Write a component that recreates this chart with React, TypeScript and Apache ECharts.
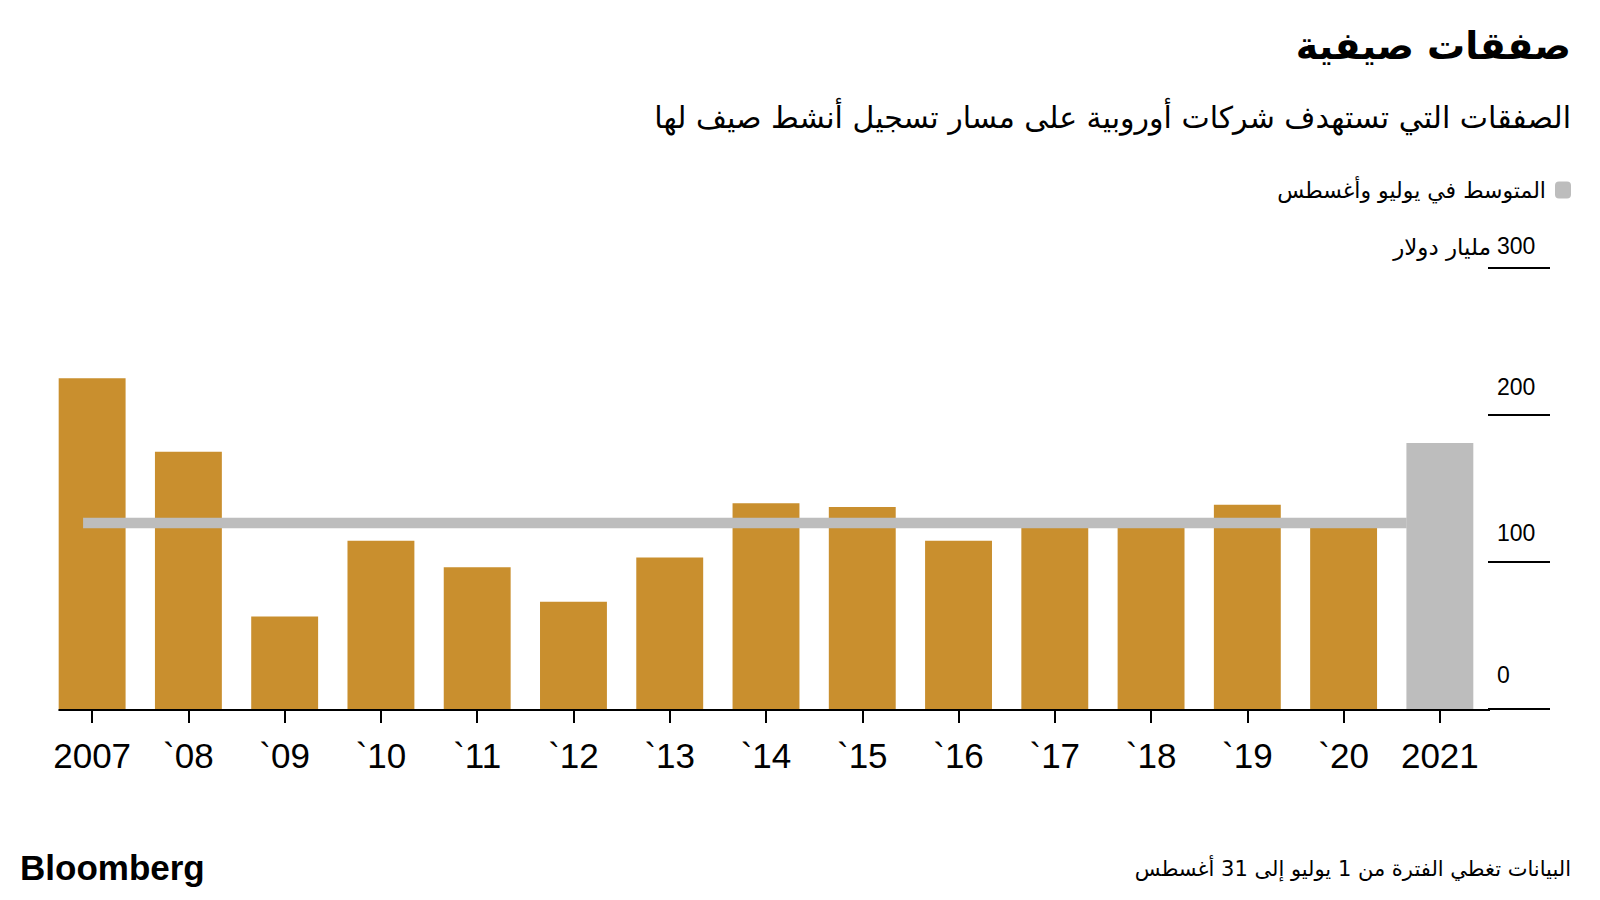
import React, { useEffect, useRef } from "react";
import * as echarts from "echarts";

const categories = ["2007", "`08", "`09", "`10", "`11", "`12", "`13", "`14", "`15", "`16", "`17", "`18", "`19", "`20", "2021"];
const dealValues = [225, 175, 63, 114.5, 96.5, 73, 103, 140, 137.5, 114.5, 125, 125.5, 139, 124, 181];
const averageValue = 126.5;
const yTickValues = [0, 100, 200, 300];
const yLabelLift = [68, 58, 56, 44];

const GOLD = "#C98F2E";
const GREY = "#BDBDBD";
const AR_FONT = '"DejaVu Sans", sans-serif';
const NUM_FONT = '"Liberation Sans", Arial, sans-serif';
const AVG_NAME = "المتوسط في يوليو وأغسطس";

export default function App() {
  const ref = useRef<HTMLDivElement>(null);
  useEffect(() => {
    if (!ref.current) return;
    const chart = echarts.init(ref.current, null, { renderer: "svg" });
    const last = dealValues.length - 1;
    const rich: Record<string, any> = {};
    yTickValues.forEach((v, i) => {
      rich["y" + v] = {
        fontSize: 23,
        fontFamily: NUM_FONT,
        color: "#000",
        padding: [0, 0, yLabelLift[i], 0],
      };
    });
    const textStyle = (text: string, font: string, align: string, vAlign: string) => ({
      text,
      font,
      fill: "#000",
      align,
      verticalAlign: vAlign,
      textAlign: align,
      textVerticalAlign: vAlign,
    });
    chart.setOption({
      animation: false,
      grid: { left: 44, right: 112, top: 268, bottom: 191, containLabel: false },
      legend: {
        data: [AVG_NAME],
        right: 24,
        top: 174,
        align: "right",
        icon: "roundRect",
        itemWidth: 16,
        itemHeight: 17,
        selectedMode: false,
        textStyle: { fontSize: 22, fontFamily: AR_FONT, color: "#000", padding: [0, 4, 0, 0] },
      },
      xAxis: {
        type: "category",
        data: categories,
        axisLine: { show: false },
        axisTick: { show: true, alignWithLabel: true, length: 14, lineStyle: { color: "#000", width: 2 } },
        axisLabel: { fontSize: 35, fontFamily: NUM_FONT, color: "#000", margin: 29, interval: 0 },
        splitLine: { show: false },
      },
      yAxis: {
        type: "value",
        position: "right",
        min: 0,
        max: 300,
        interval: 100,
        axisLine: { show: false },
        axisTick: { show: true, length: 62, lineStyle: { color: "#000", width: 2 } },
        splitLine: { show: false },
        axisLabel: {
          margin: 9,
          align: "left",
          verticalAlign: "middle",
          formatter: (v: number) => `{y${v}|${v}}`,
          rich,
        },
      },
      series: [
        {
          type: "bar",
          name: "deals",
          data: dealValues.map((v, i) =>
            i === last ? { value: v, itemStyle: { color: GREY } } : v
          ),
          barWidth: "69.5%",
          itemStyle: { color: GOLD },
          z: 2,
        },
        {
          type: "custom",
          name: AVG_NAME,
          itemStyle: { color: GREY },
          data: [[0, averageValue]],
          z: 3,
          renderItem: (params: any, api: any) => {
            const band = api.size([1, 0])[0];
            const p0 = api.coord([0, averageValue]);
            const p1 = api.coord([last, averageValue]);
            return {
              type: "line",
              shape: { x1: p0[0] - band * 0.094, y1: p0[1], x2: p1[0] - band * 0.345, y2: p1[1] },
              style: { stroke: GREY, lineWidth: 10.5 },
            };
          },
        },
        {
          type: "custom",
          name: "baseline",
          data: [[0, 0]],
          z: 4,
          renderItem: (params: any, api: any) => {
            const band = api.size([1, 0])[0];
            const p0 = api.coord([0, 0]);
            const cs = params.coordSys;
            return {
              type: "line",
              shape: { x1: p0[0] - band * 0.35, y1: p0[1] + 1, x2: cs.x + cs.width + 2, y2: p0[1] + 1 },
              style: { stroke: "#000", lineWidth: 2 },
            };
          },
        },
      ],
      graphic: [
        { type: "text", x: 1571, y: 46, style: textStyle("صفقات صيفية", `bold 38px ${AR_FONT}`, "right", "middle") },
        {
          type: "text",
          x: 1571,
          y: 117,
          style: textStyle("الصفقات التي تستهدف شركات أوروبية على مسار تسجيل أنشط صيف لها", `30px ${AR_FONT}`, "right", "middle"),
        },
        { type: "text", x: 1491, y: 247, style: textStyle("مليار دولار", `23px ${AR_FONT}`, "right", "middle") },
        {
          type: "text",
          x: 1571,
          y: 869,
          style: textStyle("البيانات تغطي الفترة من 1 يوليو إلى 31 أغسطس", `21px ${AR_FONT}`, "right", "middle"),
        },
        { type: "text", x: 20, y: 867, style: textStyle("Bloomberg", `bold 35px ${NUM_FONT}`, "left", "middle") },
      ],
    });
    return () => chart.dispose();
  }, []);
  return (
    <div
      ref={ref}
      style={{ position: "fixed", left: 0, top: 0, width: 1600, height: 900, background: "#fff" }}
    />
  );
}
